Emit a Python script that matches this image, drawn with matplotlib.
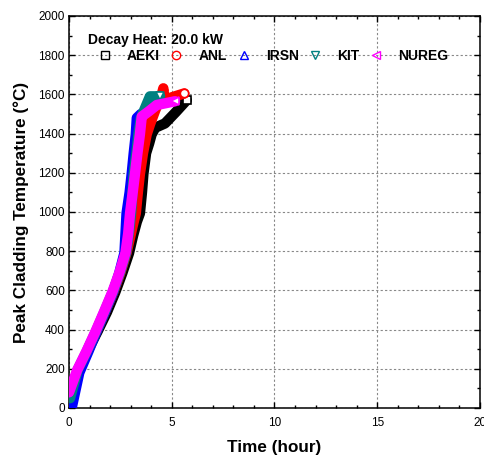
import matplotlib
matplotlib.use("Agg")
import matplotlib.pyplot as plt
from matplotlib.lines import Line2D
from matplotlib.ticker import MultipleLocator

plt.rcParams['font.family'] = ['Liberation Sans', 'DejaVu Sans']

# ---- data ----
aeki_t = [0.05, 0.45, 0.9, 1.4, 1.85, 2.25, 2.6, 2.92, 3.12, 3.3, 3.45, 3.55, 3.62, 3.75, 3.9, 4.02, 4.2, 4.67, 5.2, 5.73]
aeki_T = [40, 180, 290, 393, 490, 590, 690, 790, 880, 950, 993, 1100, 1194, 1300, 1350, 1396, 1430, 1452, 1510, 1571]

anl_t = [0.0, 0.42, 0.88, 1.34, 1.75, 2.16, 2.5, 2.8, 2.97, 3.1, 3.25, 3.35, 3.45, 3.6, 3.78, 3.95, 4.2, 4.51, 4.59, 4.65, 5.0, 5.61]
anl_T = [60, 190, 290, 393, 490, 592, 690, 792, 870, 930, 993, 1100, 1194, 1300, 1396, 1450, 1520, 1597, 1631, 1570, 1585, 1605]

irsn_t = [0.15, 0.5, 0.95, 1.35, 1.75, 2.15, 2.45, 2.7, 2.8, 2.95, 3.05, 3.15, 3.25, 3.3, 3.5]
irsn_T = [10, 180, 290, 393, 490, 592, 690, 792, 993, 1100, 1194, 1300, 1396, 1480, 1500]

kit_t = [0.05, 0.42, 0.87, 1.32, 1.72, 2.13, 2.48, 2.78, 2.92, 3.02, 3.15, 3.28, 3.38, 3.5, 3.7, 3.94, 4.2, 4.43]
kit_T = [50, 194, 290, 393, 490, 592, 690, 792, 900, 993, 1194, 1300, 1396, 1480, 1530, 1590, 1590, 1592]

nureg_t = [0.0, 0.4, 0.85, 1.3, 1.7, 2.11, 2.45, 2.75, 2.88, 2.97, 3.1, 3.21, 3.33, 3.45, 3.54, 3.9, 4.27, 4.7, 5.16]
nureg_T = [80, 194, 290, 393, 490, 592, 690, 792, 890, 993, 1100, 1194, 1300, 1396, 1487, 1515, 1546, 1555, 1565]

labels = ['AEKI', 'ANL', 'IRSN', 'KIT', 'NUREG']
colors = ['black', 'red', 'blue', '#008080', 'magenta']
markers = ['s', 'o', '^', 'v', '<']
title = 'Decay Heat: 20.0 kW'

series = [(aeki_t, aeki_T), (anl_t, anl_T), (irsn_t, irsn_T), (kit_t, kit_T), (nureg_t, nureg_T)]

fig = plt.figure(figsize=(4.85, 4.59), dpi=100)
ax = fig.add_axes([69/485, 51/459, 411/485, 392/459])

for (t, T), c, m in zip(series, colors, markers):
    ax.plot(t, T, color=c, lw=7.5, solid_joinstyle='round', solid_capstyle='round',
            marker=m, markevery=[-1], ms=6, mfc='white', mec=c, mew=1.2, zorder=3)

ax.set_xlim(0, 20)
ax.set_ylim(0, 2000)
ax.xaxis.set_major_locator(MultipleLocator(5))
ax.xaxis.set_minor_locator(MultipleLocator(1))
ax.yaxis.set_major_locator(MultipleLocator(200))
ax.yaxis.set_minor_locator(MultipleLocator(100))
ax.tick_params(which='both', direction='in', top=True, right=True, width=1)
ax.tick_params(which='major', length=4.5, labelsize=8.5)
ax.tick_params(which='minor', length=2.5)
ax.tick_params(axis='x', which='major', pad=6.5)
ax.tick_params(axis='y', which='major', pad=3)
for s in ax.spines.values():
    s.set_linewidth(1.1)
ax.grid(True, which='major', color='#888888', lw=0.8, linestyle=(0, (2, 2)))
ax.set_axisbelow(True)

ax.set_xlabel('Time (hour)', fontsize=12.3, fontweight='bold', labelpad=8)
ax.set_ylabel('Peak Cladding Temperature (°C)', fontsize=12.3, fontweight='bold', labelpad=7)

handles = [Line2D([], [], ls='none', marker=m, mfc='none', mec=c, ms=6, mew=1)
           for m, c in zip(markers, colors)]
ax.text(19/411, (408-40)/392, title, transform=ax.transAxes, fontsize=10,
        fontweight='bold', va='center', ha='left')
leg = ax.legend(handles, labels, ncol=5, frameon=False, loc='center left',
                bbox_to_anchor=(30/411, (408-56)/392), prop={'weight': 'bold', 'size': 10},
                handlelength=0.8, handletextpad=1.2, columnspacing=0.8, borderaxespad=0,
                borderpad=0)

fig.savefig('out.png', dpi=100)
